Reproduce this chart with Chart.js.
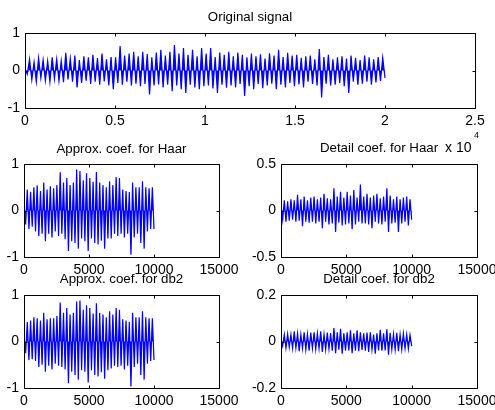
<!DOCTYPE html>
<html>
<head>
<meta charset="utf-8">
<script src="https://cdn.jsdelivr.net/npm/chart.js@4.4.1/dist/chart.umd.min.js"></script>
<style>
  body { margin: 0; background: #fff; width: 495px; height: 410px; overflow: hidden; }
  canvas { position: absolute; }
</style>
</head>
<body>
<canvas id="sig" width="495" height="160" style="left:0;top:0"></canvas>
<canvas id="haarA" width="240" height="141" style="left:0;top:136px"></canvas>
<canvas id="haarD" width="250" height="141" style="left:245px;top:136px"></canvas>
<canvas id="db2A" width="240" height="141" style="left:0;top:267px"></canvas>
<canvas id="db2D" width="250" height="141" style="left:245px;top:267px"></canvas>
<script>
// signal lengths (samples)
const signalLength = 20000;
const coefLength = 10000;

// peaks (alternating up / down swings)
const originalSignal = [
  0.05, -0.1, 0.3, -0.25, 0.22, -0.3, 0.33, -0.2, 0.28, -0.27,
  0.25, -0.3, 0.35, -0.22, 0.3, -0.28, 0.26, -0.31, 0.47, -0.24,
  0.32, -0.3, 0.4, -0.45, 0.28, -0.33, 0.38, -0.27, 0.35, -0.36,
  0.42, -0.3, 0.33, -0.38, 0.45, -0.29, 0.3, -0.4, 0.36, -0.5,
  0.35, -0.33, 0.65, -0.38, 0.4, -0.3, 0.45, -0.4, 0.5, -0.35,
  0.38, -0.42, 0.5, -0.36, 0.44, -0.64, 0.35, -0.4, 0.48, -0.37,
  0.55, -0.45, 0.4, -0.38, 0.5, -0.55, 0.68, -0.4, 0.45, -0.5,
  0.6, -0.6, 0.42, -0.38, 0.55, -0.45, 0.38, -0.5, 0.6, -0.42,
  0.45, -0.4, 0.6, -0.48, 0.36, -0.6, 0.48, -0.38, 0.42, -0.46,
  0.5, -0.4, 0.38, -0.45, 0.48, -0.36, 0.42, -0.68, 0.35, -0.42,
  0.45, -0.5, 0.38, -0.36, 0.43, -0.47, 0.32, -0.4, 0.46, -0.35,
  0.4, -0.5, 0.55, -0.38, 0.36, -0.45, 0.47, -0.33, 0.4, -0.42,
  0.42, -0.37, 0.34, -0.45, 0.38, -0.3, 0.4, -0.36, 0.3, -0.4,
  0.57, -0.72, 0.36, -0.35, 0.42, -0.4, 0.3, -0.38, 0.35, -0.33,
  0.38, -0.42, 0.32, -0.6, 0.4, -0.3, 0.34, -0.38, 0.28, -0.35,
  0.4, -0.3, 0.35, -0.38, 0.3, -0.32, 0.36, -0.28, 0.34, -0.2
];

const approxHaar = [
  0.1, -0.3, 0.45, -0.4, 0.4, -0.35, 0.5, -0.45, 0.54, -0.55,
  0.42, -0.5, 0.6, -0.66, 0.45, -0.5, 0.52, -0.58, 0.48, -0.45,
  0.55, -0.55, 0.82, -0.5, 0.6, -0.62, 0.7, -0.87, 0.55, -0.66,
  0.6, -0.7, 0.88, -0.82, 0.85, -0.6, 0.65, -0.66, 0.8, -0.87,
  0.7, -0.6, 0.62, -0.7, 0.83, -0.73, 0.6, -0.65, 0.55, -0.82,
  0.5, -0.6, 0.63, -0.6, 0.55, -0.5, 0.72, -0.55, 0.7, -0.5,
  0.45, -0.58, 0.42, -0.5, 0.4, -0.95, 0.6, -0.58, 0.5, -0.5,
  0.5, -0.7, 0.63, -0.82, 0.5, -0.45, 0.48, -0.4, 0.5, -0.4
];

const detailHaar = [
  0.05, -0.1, 0.11, -0.12, 0.1, -0.11, 0.12, -0.1, 0.11, -0.12,
  0.17, -0.11, 0.12, -0.17, 0.15, -0.12, 0.11, -0.13, 0.14, -0.12,
  0.15, -0.14, 0.12, -0.12, 0.14, -0.19, 0.18, -0.12, 0.13, -0.15,
  0.12, -0.14, 0.24, -0.23, 0.15, -0.13, 0.2, -0.16, 0.14, -0.15,
  0.2, -0.14, 0.16, -0.2, 0.22, -0.15, 0.14, -0.12, 0.28, -0.14,
  0.15, -0.14, 0.18, -0.15, 0.14, -0.19, 0.16, -0.12, 0.18, -0.14,
  0.13, -0.15, 0.15, -0.12, 0.24, -0.23, 0.16, -0.14, 0.12, -0.13,
  0.15, -0.23, 0.12, -0.14, 0.14, -0.12, 0.15, -0.16, 0.12, -0.1
];

const approxDb2 = [
  0.1, -0.25, 0.42, -0.4, 0.45, -0.38, 0.52, -0.42, 0.5, -0.55,
  0.45, -0.5, 0.62, -0.65, 0.48, -0.52, 0.5, -0.6, 0.5, -0.48,
  0.55, -0.52, 0.84, -0.55, 0.62, -0.6, 0.72, -0.9, 0.58, -0.65,
  0.62, -0.72, 0.86, -0.82, 0.88, -0.62, 0.68, -0.65, 0.78, -0.88,
  0.72, -0.62, 0.6, -0.72, 0.82, -0.75, 0.62, -0.66, 0.58, -0.8,
  0.52, -0.62, 0.65, -0.58, 0.58, -0.52, 0.72, -0.55, 0.68, -0.52,
  0.48, -0.6, 0.45, -0.52, 0.42, -0.97, 0.62, -0.55, 0.52, -0.48,
  0.52, -0.72, 0.65, -0.82, 0.52, -0.48, 0.5, -0.42, 0.5, -0.4
];

const detailDb2 = [
  0.01, -0.02, 0.03, -0.028, 0.032, -0.025, 0.03, -0.03, 0.044, -0.028,
  0.035, -0.042, 0.03, -0.03, 0.04, -0.035, 0.032, -0.04, 0.038, -0.03,
  0.04, -0.033, 0.035, -0.03, 0.044, -0.045, 0.03, -0.035, 0.038, -0.032,
  0.036, -0.04, 0.058, -0.05, 0.04, -0.035, 0.055, -0.052, 0.035, -0.04,
  0.04, -0.038, 0.048, -0.05, 0.035, -0.04, 0.048, -0.042, 0.04, -0.036,
  0.035, -0.04, 0.038, -0.045, 0.04, -0.035, 0.03, -0.052, 0.035, -0.038,
  0.05, -0.04, 0.035, -0.038, 0.052, -0.057, 0.037, -0.035, 0.032, -0.036,
  0.037, -0.042, 0.03, -0.035, 0.035, -0.03, 0.03, -0.032, 0.028, -0.02
];

// axis ticks
const sigXTicks = [0, 5000, 10000, 15000, 20000, 25000];
const coefXTicks = [0, 5000, 10000, 15000];

Chart.defaults.font.family = "'Liberation Sans', Arial, sans-serif";
Chart.defaults.color = "#000";

// matlab style box with inward ticks
const boxPlugin = {
  id: "matlabBox",
  afterDraw(chart) {
    const { ctx, chartArea: a, scales } = chart;
    const l = Math.round(a.left) + 0.5, r = Math.round(a.right) + 0.5;
    const t = Math.round(a.top) + 0.5, b = Math.round(a.bottom) + 0.5;
    ctx.save();
    ctx.strokeStyle = "#000";
    ctx.lineWidth = 1;
    ctx.beginPath();
    ctx.rect(l, t, r - l, b - t);
    scales.x.ticks.forEach((tk) => {
      const px = Math.round(scales.x.getPixelForValue(tk.value)) + 0.5;
      ctx.moveTo(px, t); ctx.lineTo(px, t + 3);
      ctx.moveTo(px, b); ctx.lineTo(px, b - 3);
    });
    scales.y.ticks.forEach((tk) => {
      const py = Math.round(scales.y.getPixelForValue(tk.value)) + 0.5;
      ctx.moveTo(l, py); ctx.lineTo(l + 3, py);
      ctx.moveTo(r, py); ctx.lineTo(r - 3, py);
    });
    ctx.stroke();
    // exponent label of the top plot
    const exp = chart.options.plugins.matlabBox && chart.options.plugins.matlabBox.exponent;
    if (exp) {
      ctx.fillStyle = "#000";
      ctx.textBaseline = "alphabetic";
      ctx.textAlign = "left";
      ctx.font = "14px 'Liberation Sans', Arial, sans-serif";
      ctx.fillText("x 10", 445, 152);
      ctx.font = "9px 'Liberation Sans', Arial, sans-serif";
      ctx.fillText(exp, 474, 138);
    }
    ctx.restore();
  },
};

function makePlot(id, cfg) {
  const step = cfg.length / (cfg.values.length - 1);
  const points = cfg.values.map((v, i) => ({ x: i * step, y: v }));
  return new Chart(document.getElementById(id), {
    type: "line",
    data: {
      datasets: [{
        data: points,
        borderColor: "#0000ff",
        backgroundColor: "#0000ff",
        borderWidth: cfg.lineWidth,
        pointRadius: 0,
        tension: 0,
        fill: "origin",
      }],
    },
    options: {
      responsive: false,
      animation: false,
      events: [],
      layout: { padding: { left: 0, right: cfg.padRight, top: 0, bottom: cfg.padBottom } },
      plugins: {
        legend: { display: false },
        tooltip: { enabled: false },
        title: {
          display: true,
          text: cfg.title,
          fullSize: false,
          color: "#000",
          font: { size: 13.3, weight: "normal", lineHeight: "16px" },
          padding: { top: cfg.titleTop, bottom: cfg.titleBottom },
        },
        matlabBox: { exponent: cfg.exponent || null },
      },
      scales: {
        x: {
          type: "linear",
          min: cfg.xTicks[0],
          max: cfg.xTicks[cfg.xTicks.length - 1],
          afterBuildTicks: (s) => { s.ticks = cfg.xTicks.map((v) => ({ value: v })); },
          grid: { display: false, drawTicks: false },
          border: { display: false },
          ticks: {
            padding: 5,
            maxRotation: 0,
            autoSkip: false,
            font: { size: 14 },
            callback: (v) => String(v / cfg.xDiv),
          },
          afterFit: (s) => { s.height = 20; s.paddingLeft = 0; s.paddingRight = 0; },
        },
        y: {
          min: -cfg.yMax,
          max: cfg.yMax,
          afterBuildTicks: (s) => { s.ticks = [-cfg.yMax, 0, cfg.yMax].map((v) => ({ value: v })); },
          grid: { display: false, drawTicks: false },
          border: { display: false },
          ticks: {
            padding: 5,
            font: { size: 14 },
            callback: (v) => String(v),
          },
          afterFit: (s) => { s.width = cfg.yWidth; s.paddingTop = 0; s.paddingBottom = 0; },
        },
      },
    },
    plugins: [boxPlugin],
  });
}

makePlot("sig", {
  title: "Original signal", values: originalSignal, length: signalLength,
  xTicks: sigXTicks, xDiv: 10000, yMax: 1, yWidth: 25, padRight: 20, padBottom: 32,
  titleTop: 9, titleBottom: 8, lineWidth: 1.2, exponent: "4",
});
makePlot("haarA", {
  title: "Approx. coef. for Haar", values: approxHaar, length: coefLength,
  xTicks: coefXTicks, xDiv: 1, yMax: 1, yWidth: 24, padRight: 21, padBottom: 0,
  titleTop: 5.5, titleBottom: 6.5, lineWidth: 1.2,
});
makePlot("haarD", {
  title: "Detail coef. for Haar", values: detailHaar, length: coefLength,
  xTicks: coefXTicks, xDiv: 1, yMax: 0.5, yWidth: 36, padRight: 18, padBottom: 0,
  titleTop: 4.5, titleBottom: 7.5, lineWidth: 1.2,
});
makePlot("db2A", {
  title: "Approx. coef. for db2", values: approxDb2, length: coefLength,
  xTicks: coefXTicks, xDiv: 1, yMax: 1, yWidth: 24, padRight: 21, padBottom: 0,
  titleTop: 4.5, titleBottom: 7.5, lineWidth: 1.2,
});
makePlot("db2D", {
  title: "Detail coef. for db2", values: detailDb2, length: coefLength,
  xTicks: coefXTicks, xDiv: 1, yMax: 0.2, yWidth: 36, padRight: 18, padBottom: 0,
  titleTop: 4.5, titleBottom: 7.5, lineWidth: 1.2,
});
</script>
</body>
</html>
